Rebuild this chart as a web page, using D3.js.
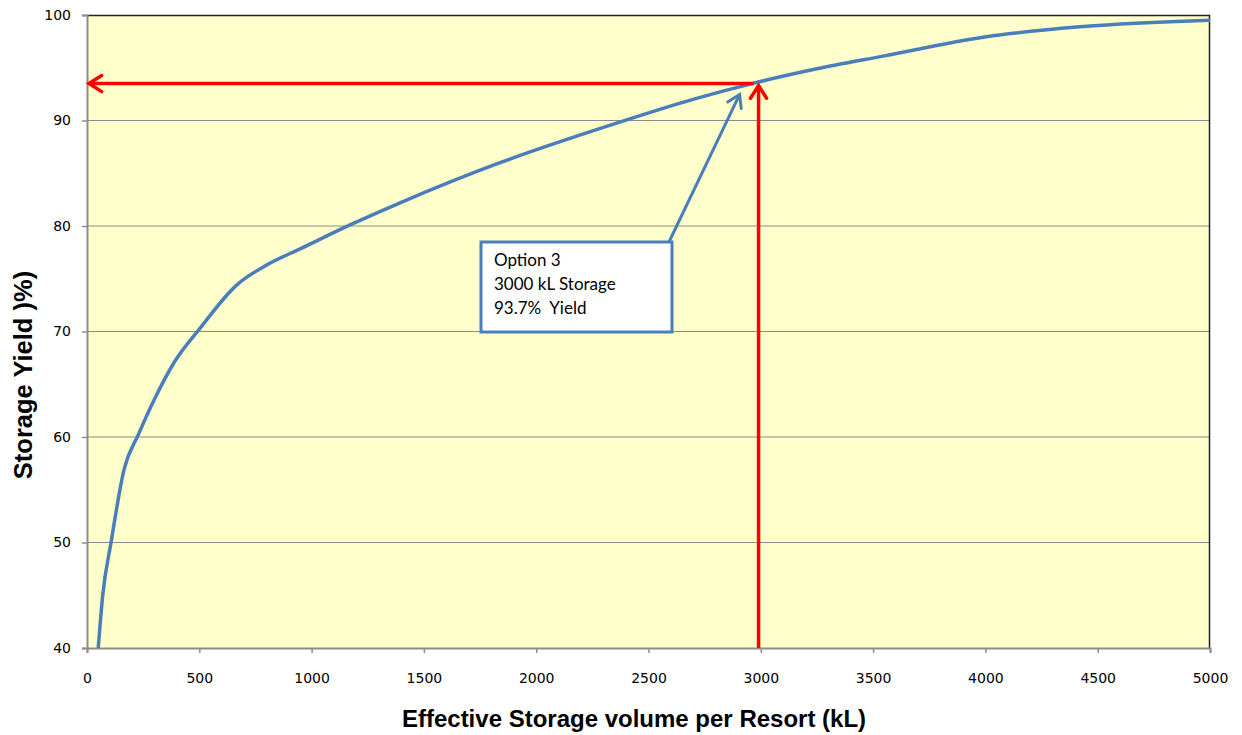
<!DOCTYPE html>
<html>
<head>
<meta charset="UTF-8">
<title>Storage yield</title>
<script src="https://d3js.org/d3.v7.min.js"></script>
<style>
  body { margin: 0; background: #fff; }
  .axis-title { font-family: "Liberation Sans", Arial, sans-serif; font-weight: bold; fill: #000; }
  .callout text { font-family: Lato, "Open Sans", sans-serif; font-size: 17px; fill: #000; white-space: pre; }
</style>
</head>
<body>
<svg id="chart" width="1242" height="735"></svg>
<script>
// storage volume (kL) vs yield (%)
const volume = [50, 70, 107, 166, 228, 303, 392, 503, 666, 800, 956, 1171, 1394, 1839, 2351, 2698, 2961, 3250, 3544, 3990, 4434, 5000];
const yieldPct = [40, 45, 50, 57, 60.2, 63.7, 67.2, 70.3, 74.4, 76.3, 77.9, 80.1, 82.2, 86.0, 89.7, 92.0, 93.5, 94.9, 96.1, 97.9, 98.9, 99.5];

const xTicks = [0, 500, 1000, 1500, 2000, 2500, 3000, 3500, 4000, 4500, 5000];
const yTicks = [40, 50, 60, 70, 80, 90, 100];

// option 3 marker
const optVolume = 2990;
const optYield = 93.5;
const calloutLines = ["Option 3", "3000 kL Storage", "93.7%  Yield"];

const svg = d3.select("#chart");
const margin = {top: 15, right: 32, bottom: 87, left: 87};
const width = 1242 - margin.left - margin.right;
const height = 735 - margin.top - margin.bottom;

const x = d3.scaleLinear().domain([0, 5000]).range([0, width]);
const y = d3.scaleLinear().domain([40, 100]).range([height, 0]);

const g = svg.append("g").attr("transform", `translate(${margin.left},${margin.top})`);

// plot background
g.append("rect").attr("width", width).attr("height", height).attr("fill", "#FFFFCC");

// horizontal gridlines
g.selectAll("line.grid")
  .data(yTicks.filter(d => d > 40 && d < 100))
  .enter().append("line")
  .attr("class", "grid")
  .attr("x1", 0).attr("x2", width)
  .attr("y1", d => y(d)).attr("y2", d => y(d))
  .attr("stroke", "#8c8c8c").attr("stroke-width", 1);

// top + right border
g.append("path")
  .attr("d", `M0,0.5H${width - 0.5}V${height}`)
  .attr("fill", "none").attr("stroke", "#222").attr("stroke-width", 1.5);

// axes
const xAxis = g.append("g")
  .attr("transform", `translate(0,${height})`)
  .call(d3.axisBottom(x).tickValues(xTicks).tickSize(5).tickPadding(20).tickFormat(d3.format("d")));
const yAxis = g.append("g")
  .call(d3.axisLeft(y).tickValues(yTicks).tickSize(5).tickPadding(11));
[xAxis, yAxis].forEach(a => {
  a.attr("font-family", "DejaVu Sans, Verdana, sans-serif").attr("font-size", 14);
  a.selectAll(".tick text").attr("fill", "#000");
  a.select(".domain").attr("stroke", "#8c8c8c").attr("stroke-width", 2);
  a.selectAll(".tick line").attr("stroke", "#8c8c8c").attr("stroke-width", 1.5);
});

// yield curve
const line = d3.line()
  .x((d, i) => x(volume[i]))
  .y(d => y(d))
  .curve(d3.curveMonotoneX);
g.append("path")
  .datum(yieldPct)
  .attr("d", line)
  .attr("fill", "none")
  .attr("stroke", "#4A7EBB")
  .attr("stroke-width", 3.5)
  .attr("stroke-linejoin", "round");

// open arrowhead helper
function arrowHead(tx, ty, angle, size, color, w) {
  const a1 = angle + Math.PI * 0.82, a2 = angle - Math.PI * 0.82;
  g.append("path")
    .attr("d", `M${tx + size * Math.cos(a1)},${ty + size * Math.sin(a1)}L${tx},${ty}L${tx + size * Math.cos(a2)},${ty + size * Math.sin(a2)}`)
    .attr("fill", "none").attr("stroke", color).attr("stroke-width", w)
    .attr("stroke-linecap", "round").attr("stroke-linejoin", "miter");
}

// red vertical arrow
const red = "#FF0000";
g.append("line")
  .attr("x1", x(optVolume)).attr("x2", x(optVolume))
  .attr("y1", height).attr("y2", y(optYield) + 2)
  .attr("stroke", red).attr("stroke-width", 3.5);
arrowHead(x(optVolume), y(optYield) + 2, -Math.PI / 2, 15, red, 3.5);

// red horizontal arrow
g.append("line")
  .attr("x1", x(optVolume) - 5).attr("x2", 2)
  .attr("y1", y(optYield)).attr("y2", y(optYield))
  .attr("stroke", red).attr("stroke-width", 3.5);
arrowHead(2, y(optYield), Math.PI, 15, red, 3.5);

// callout box with pointer
const box = {x: 394, y: 227, w: 191, h: 90};
const callout = g.append("g").attr("class", "callout");
const baseX = box.x + box.w - 3;
const tipX = x(optVolume) - 19, tipY = y(optYield) + 11;
callout.append("line")
  .attr("x1", baseX).attr("y1", box.y)
  .attr("x2", tipX).attr("y2", tipY)
  .attr("stroke", "#4A7EBB").attr("stroke-width", 3);
arrowHead(tipX, tipY, Math.atan2(tipY - box.y, tipX - baseX), 14, "#4A7EBB", 3);
callout.append("rect")
  .attr("x", box.x).attr("y", box.y).attr("width", box.w).attr("height", box.h)
  .attr("fill", "#fff").attr("stroke", "#4A7EBB").attr("stroke-width", 3);
callout.selectAll("text")
  .data(calloutLines)
  .enter().append("text")
  .attr("x", box.x + 13)
  .attr("y", (d, i) => box.y + 24 + i * 24)
  .text(d => d);

// axis titles
svg.append("text")
  .attr("class", "axis-title")
  .attr("font-size", 24)
  .attr("x", 634)
  .attr("y", 727)
  .attr("text-anchor", "middle")
  .text("Effective Storage volume per Resort (kL)");
svg.append("text")
  .attr("class", "axis-title")
  .attr("font-size", 25.5)
  .attr("transform", "translate(32,375) rotate(-90)")
  .attr("text-anchor", "middle")
  .text("Storage Yield )%)");
</script>
</body>
</html>
